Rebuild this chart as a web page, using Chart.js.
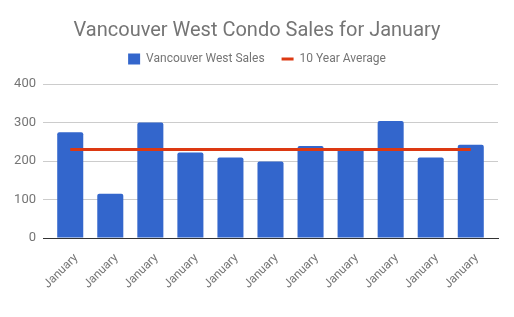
<!DOCTYPE html>
<html>
<head>
<meta charset="utf-8">
<script src="https://cdn.jsdelivr.net/npm/chart.js@4"></script>
<style>
	html, body { margin: 0; padding: 0; background: #fff; }
	#wrap { width: 514px; height: 317px; }
</style>
</head>
<body>
<div id="wrap"><canvas id="chart" width="514" height="317"></canvas></div>
<script>
const labels = ['January', 'January', 'January', 'January', 'January', 'January', 'January', 'January', 'January', 'January', 'January']
const sales = [275, 115, 300, 222, 209, 199, 239, 230, 304, 209, 242]
const average = [230, 230, 230, 230, 230, 230, 230, 230, 230, 230, 230]
const y_ticks = [0, 100, 200, 300, 400]

const grey = '#757575'
Chart.defaults.font.family = 'Roboto'

// a bit of room under the legend
const legendGap = {
	id: 'legendGap',
	beforeInit(chart) {
		const fit = chart.legend.fit
		chart.legend.fit = function () {
			fit.bind(this)()
			this.height += 9
		}
	}
}

new Chart('chart', {
	type: 'bar',
	data: {
		labels: labels,
		datasets: [{
			label: 'Vancouver West Sales',
			data: sales,
			backgroundColor: '#3366cc',
			borderRadius: 2,
			borderSkipped: 'bottom',
			categoryPercentage: 1,
			barPercentage: 0.65,
			pointStyle: 'rect',
			order: 1
		}, {
			type: 'line',
			label: '10 Year Average',
			data: average,
			borderColor: '#dc3912',
			backgroundColor: '#dc3912',
			borderWidth: 3,
			pointRadius: 0,
			pointStyle: 'line',
			order: 0
		}]
	},
	options: {
		responsive: false,
		animation: false,
		layout: { padding: 0 },
		plugins: {
			title: {
				display: true,
				text: 'Vancouver West Condo Sales for January',
				color: grey,
				font: { size: 20, weight: 'normal' },
				padding: { top: 19, bottom: -7 }
			},
			legend: {
				labels: {
					color: grey,
					font: { size: 12 },
					usePointStyle: true,
					pointStyleWidth: 12,
					boxHeight: 11,
					padding: 17,
					sort: (a, b) => a.datasetIndex - b.datasetIndex
				}
			},
			tooltip: { enabled: false }
		},
		scales: {
			x: {
				grid: { display: false },
				border: { color: '#333', width: 1 },
				ticks: {
					color: grey,
					font: { size: 12 },
					minRotation: 45,
					maxRotation: 45,
					padding: 5,
					labelOffset: 6
				},
				// gridlines run a little past the outer bars, so widen the value range
				afterBuildTicks: s => {
					s._startValue -= 0.18
					s._valueRange += 0.36
				},
				afterFit: s => { s.height = 79 }
			},
			y: {
				min: 0,
				max: 400,
				afterBuildTicks: s => { s.ticks = y_ticks.map(v => ({ value: v })) },
				grid: {
					color: c => c.tick && c.tick.value === 0 ? '#333' : '#ccc',
					drawTicks: false
				},
				border: { display: false },
				ticks: {
					color: grey,
					font: { size: 13 },
					padding: 7
				},
				afterFit: s => { s.width = 43 }
			},
			// empty strip on the right so the title stays centred on the page
			right: {
				position: 'right',
				display: true,
				grid: { display: false },
				border: { display: false },
				ticks: { display: false },
				afterFit: s => { s.width = 16 }
			}
		}
	},
	plugins: [legendGap]
})
</script>
</body>
</html>
